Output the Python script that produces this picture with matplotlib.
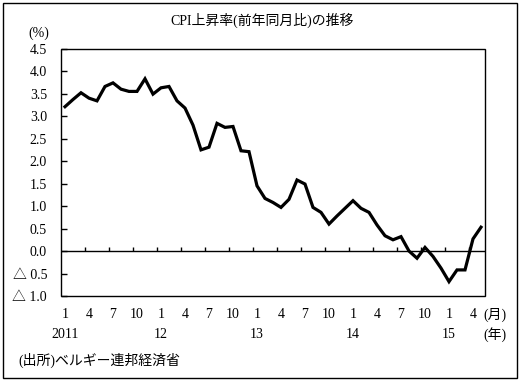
import matplotlib.pyplot as plt
import matplotlib.transforms as mtransforms
from matplotlib.patches import Rectangle
import numpy as np

plt.rcParams['font.family'] = ['Liberation Serif', 'Noto Sans CJK JP', 'DejaVu Sans']

# CPI上昇率 (前年同月比, %), 2011年1月 - 2015年5月
cpi = [3.21, 3.37, 3.52, 3.40, 3.34, 3.66, 3.74, 3.60, 3.55, 3.55, 3.83, 3.49,
       3.63, 3.66, 3.34, 3.18, 2.80, 2.25, 2.31, 2.84, 2.75, 2.77, 2.23, 2.21,
       1.45, 1.17, 1.08, 0.97, 1.15, 1.58, 1.49, 0.97, 0.86, 0.60, 0.78, 0.95,
       1.12, 0.95, 0.86, 0.58, 0.34, 0.25, 0.32, 0.00, -0.16, 0.08, -0.12, -0.38,
       -0.68, -0.42, -0.42, 0.27, 0.53]
month_labels = ['1', '4', '7', '10'] * 4 + ['1', '4']
year_labels = ['2011', '12', '13', '14', '15']
yticks = [-1.0, -0.5, 0.0, 0.5, 1.0, 1.5, 2.0, 2.5, 3.0, 3.5, 4.0, 4.5]

fs = 10
fig = plt.figure(figsize=(5.19, 3.84), dpi=100)
ax = fig.add_axes([61 / 519, 1 - 296 / 384, 424 / 519, (296 - 48.7) / 384])

x = np.arange(len(cpi))
ax.plot(x, cpi, color='black', lw=2.3, solid_joinstyle='miter')

ax.set_xlim(-0.5, len(cpi) - 0.5)
ax.set_ylim(-1.0, 4.5)

# frame
for s in ax.spines.values():
    s.set_visible(False)
ax.add_patch(Rectangle((0, 0), 1, 1, transform=ax.transAxes, fill=False,
                       lw=1.0, ec='black', clip_on=False))

# zero line with tick marks every 3 months
ax.axhline(0, color='black', lw=1.0)
ax.vlines(np.arange(2.5, len(cpi) - 1, 3), 0, 0.08, color='black', lw=1.0)

# y axis
ax.set_yticks(yticks)
ax.set_yticklabels([('△ %.1f' % -v) if v < 0 else '%.1f' % v for v in yticks],
                   fontsize=fs)
ax.tick_params(axis='y', direction='in', length=4, width=1.0, pad=10)
ax.tick_params(axis='x', length=0, labelbottom=False)

# x labels
trans = mtransforms.blended_transform_factory(ax.transData, fig.transFigure)
for i, lab in enumerate(month_labels):
    ax.text(i * 3, 1 - 315 / 384, lab, transform=trans, ha='center', va='center',
            fontsize=fs)
for i, lab in enumerate(year_labels):
    ax.text(i * 12, 1 - 335 / 384, lab, transform=trans, ha='center', va='center',
            fontsize=fs)
fig.text(495 / 519, 1 - 315 / 384, '(月)', ha='center', va='center', fontsize=fs)
fig.text(495 / 519, 1 - 335 / 384, '(年)', ha='center', va='center', fontsize=fs)

fig.text(262 / 519, 1 - 20 / 384, 'CPI上昇率(前年同月比)の推移', ha='center',
         va='center', fontsize=fs)
fig.text(39 / 519, 1 - 33 / 384, '(%)', ha='center', va='center', fontsize=fs)
fig.text(18 / 519, 1 - 360 / 384, '(出所)ベルギー連邦経済省', ha='left',
         va='center', fontsize=fs)

# outer border
fig.patches.append(Rectangle((2.5 / 519, 1 - 378 / 384), 514.5 / 519, 375.5 / 384,
                             transform=fig.transFigure, fill=False, lw=1.0,
                             ec='black'))

fig.savefig('out.png', dpi=100)
